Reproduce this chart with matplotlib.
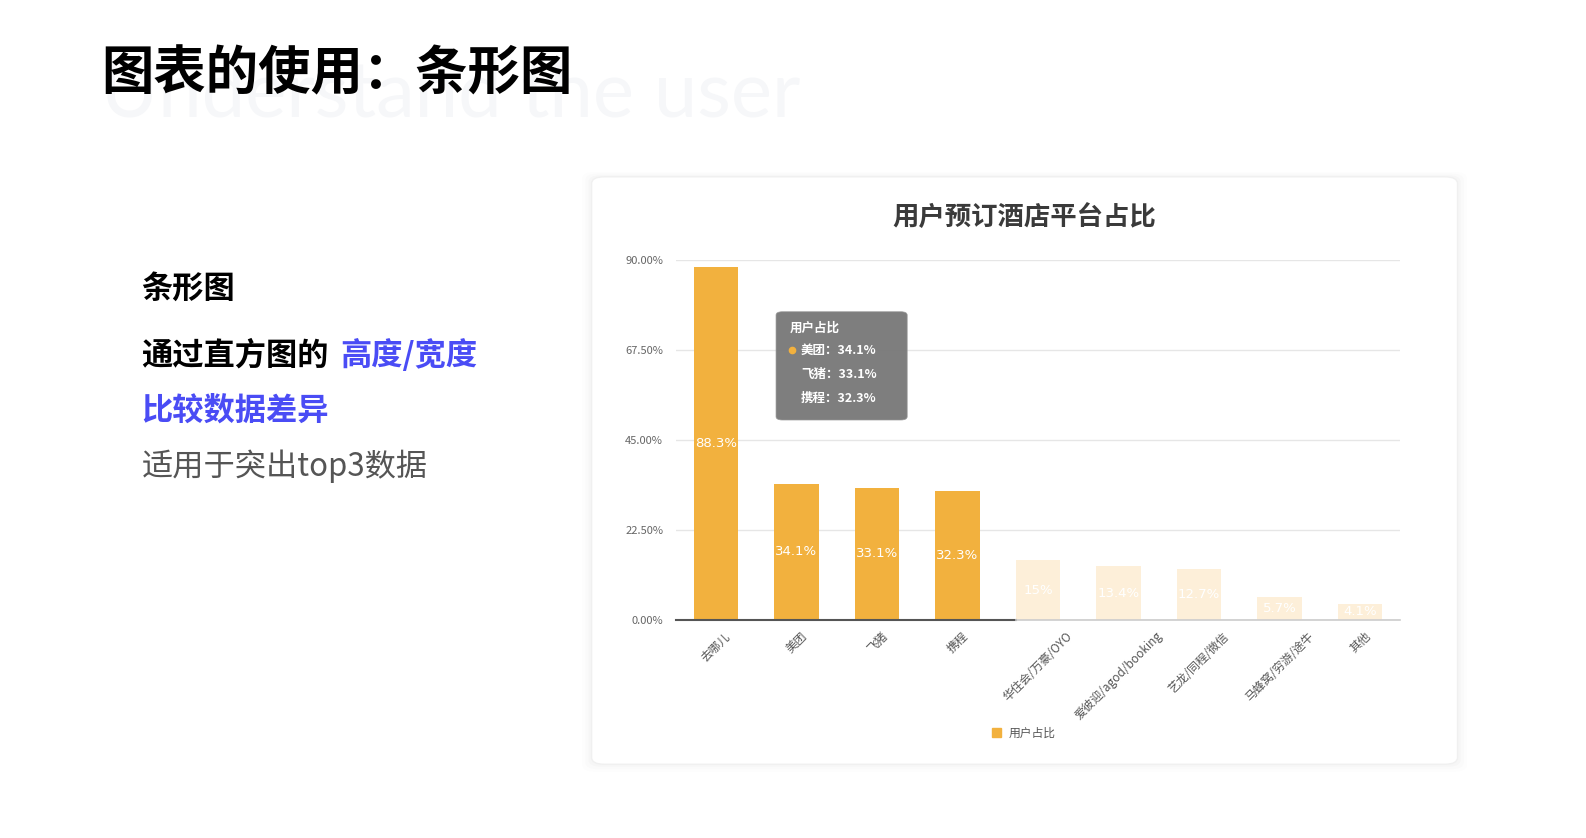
import matplotlib
matplotlib.use("Agg")
import matplotlib.pyplot as plt
from matplotlib.patches import FancyBboxPatch, Rectangle
from matplotlib.lines import Line2D

plt.rcParams['font.family'] = ['Noto Sans CJK SC', 'DejaVu Sans']

# data
platforms = ["去哪儿", "美团", "飞猪", "携程", "华住会/万豪/OYO",
             "爱彼迎/agod/booking", "艺龙/同程/微信", "马蜂窝/穷游/途牛", "其他"]
share = [88.3, 34.1, 33.1, 32.3, 15, 13.4, 12.7, 5.7, 4.1]
y_ticks = [0, 22.5, 45, 67.5, 90]
series_name = "用户占比"
top_n = 4
tip_idx = [1, 2, 3]

fig = plt.figure(figsize=(15.86, 8.38), dpi=100)
fig.patch.set_facecolor("white")

# page heading + watermark
fig.text(0.0637, 0.861, "Understand the user", fontsize=56, color="#f6f7f9",
         family="Lato", va="baseline", zorder=-5)
fig.text(0.0637, 0.912, "图表的使用：条形图", fontsize=37.7, fontweight="bold",
         color="black", va="center", zorder=2)

# left notes
fig.text(0.0893, 0.655, "条形图", fontsize=22.5, fontweight="bold", va="center")
fig.text(0.0893, 0.576, "通过直方图的", fontsize=22.5, fontweight="bold", va="center")
fig.text(0.2143, 0.576, "高度/宽度", fontsize=22.5, fontweight="bold",
         color="#4a4cf5", va="center")
fig.text(0.0893, 0.510, "比较数据差异", fontsize=22.5, fontweight="bold",
         color="#4a4cf5", va="center")
fig.text(0.0893, 0.444, "适用于突出top3数据", fontsize=22.5, color="#555555",
         va="center")

# card with soft shadow
for i, a in enumerate([0.03, 0.04, 0.05]):
    fig.patches.append(FancyBboxPatch((0.373 - 0.002 * (3 - i), 0.088 - 0.003 * (3 - i)),
                                      0.546 + 0.004 * (3 - i), 0.701 + 0.005 * (3 - i),
                                      boxstyle="round,pad=0,rounding_size=0.008",
                                      transform=fig.transFigure, facecolor="black",
                                      alpha=a * 0.3, edgecolor="none", zorder=-4))
fig.patches.append(FancyBboxPatch((0.373, 0.088), 0.546, 0.701,
                                  boxstyle="round,pad=0,rounding_size=0.008",
                                  transform=fig.transFigure, facecolor="white",
                                  edgecolor="#f0f0f0", lw=1, zorder=-3))

fig.text(0.6455, 0.740, "用户预订酒店平台占比", fontsize=19, fontweight="bold",
         color="#3a3a3a", ha="center", va="center")

ax = fig.add_axes([0.426, 0.260, 0.457, 0.430])
ax.set_facecolor("none")
x = list(range(len(platforms)))
colors = ["#f2b13e" if i < top_n else "#fdefd9" for i in x]
bars = ax.bar(x, share, width=0.55, color=colors, zorder=3, label=series_name)

for b, v in zip(bars, share):
    ax.text(b.get_x() + b.get_width() / 2, v / 2, f"{v:g}%", ha="center",
            va="center", color="white", fontsize=9.5, family="DejaVu Sans", zorder=4)

ax.set_xlim(-0.5, len(platforms) - 0.5)
ax.set_ylim(0, 90)
ax.set_yticks(y_ticks)
ax.set_yticklabels([f"{t:.2f}%" for t in y_ticks], fontsize=8, color="#666666")
ax.yaxis.grid(True, color="#e6e6e6", lw=1, zorder=0)
ax.set_axisbelow(True)
ax.set_xticks(x)
ax.set_xticklabels(platforms, rotation=45, ha="center", va="top",
                   fontsize=8.5, color="#555555")
ax.tick_params(axis="y", length=0, pad=9)
ax.tick_params(axis="x", length=0, pad=7)
for s in ax.spines.values():
    s.set_visible(False)
# baseline: dark under highlighted bars, light under the rest
ax.plot([-0.5, top_n - 0.275], [0, 0], color="#555555", lw=1.5, zorder=5,
        clip_on=False)
ax.plot([top_n - 0.275, len(platforms) - 0.5], [0, 0], color="#cccccc", lw=1.2,
        zorder=5, clip_on=False)

# legend
leg = ax.legend(handles=[Rectangle((0, 0), 1, 1, color="#f2b13e")], labels=[series_name],
                loc="center", bbox_to_anchor=(0.6455, 0.125),
                bbox_transform=fig.transFigure, frameon=False, fontsize=8.5,
                handlelength=0.8, handleheight=0.8, handletextpad=0.6)
for t in leg.get_texts():
    t.set_color("#555555")

# tooltip
fig.patches.append(FancyBboxPatch((0.4893, 0.4988), 0.0827, 0.1292,
                                  boxstyle="round,pad=0,rounding_size=0.004",
                                  transform=fig.transFigure, facecolor="#777777",
                                  alpha=0.95, edgecolor="#999999", lw=0.5, zorder=10))
fig.text(0.498, 0.6078, series_name, fontsize=9, fontweight="bold", color="white",
         va="center", zorder=11)
fig.add_artist(Line2D([0.4995], [0.5823], marker="o", markersize=4.5,
                      color="#f2b13e", transform=fig.transFigure, zorder=11))
for k, i in enumerate(tip_idx):
    fig.text(0.505, 0.5823 - k * 0.0289, f"{platforms[i]}：{share[i]}%", fontsize=9,
             fontweight="bold", color="white", va="center", zorder=11)

fig.savefig("out.png", dpi=100, facecolor="white")
